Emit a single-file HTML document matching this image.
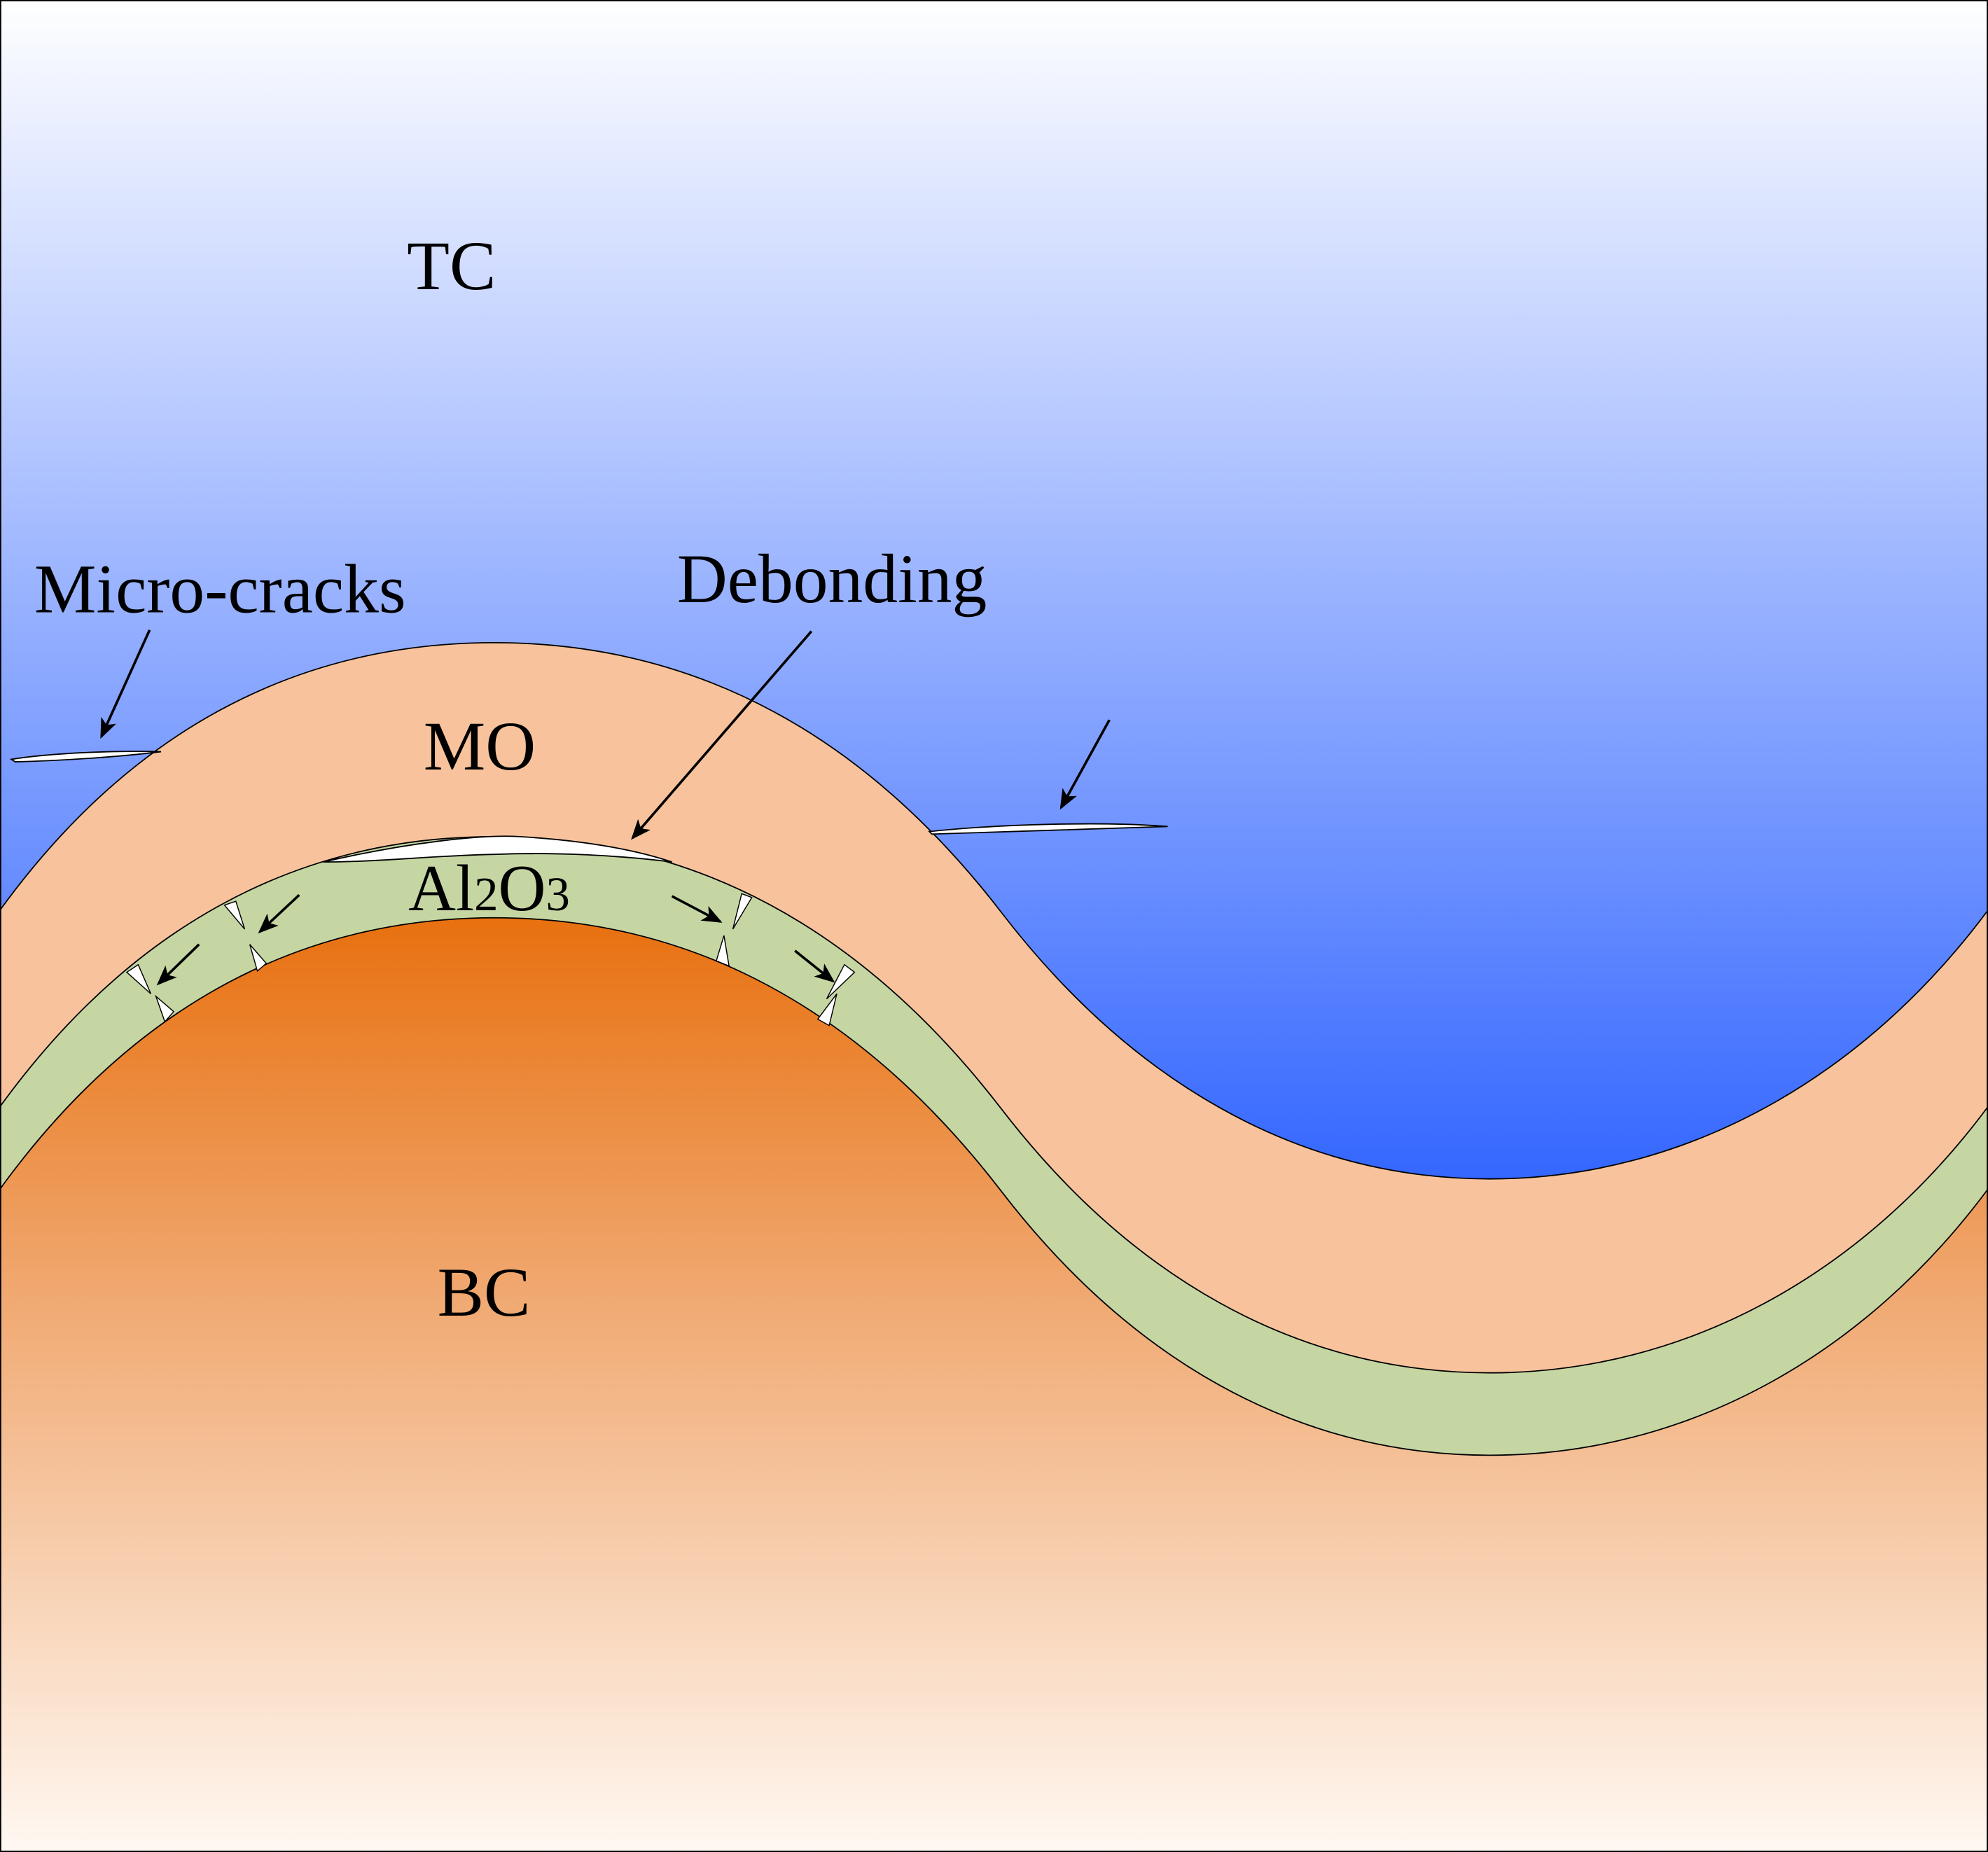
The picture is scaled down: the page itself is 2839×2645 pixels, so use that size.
<!DOCTYPE html>
<html><head><meta charset="utf-8"><style>
html,body{margin:0;padding:0;background:#fff}
svg{display:block}
text{font-family:"Liberation Serif",serif;fill:#000}
</style></head><body>
<svg width="2839" height="2645" viewBox="0 0 1568 1461" preserveAspectRatio="none" xmlns="http://www.w3.org/2000/svg">
<defs>
<linearGradient id="tc" x1="0" y1="0" x2="0" y2="1" gradientUnits="objectBoundingBox">
<stop offset="0" stop-color="#ffffff"/><stop offset="1" stop-color="#3366ff"/></linearGradient>
<linearGradient id="bc" x1="0" y1="724" x2="0" y2="1461" gradientUnits="userSpaceOnUse">
<stop offset="0" stop-color="#e8700f"/><stop offset="0.4" stop-color="#f0a870"/><stop offset="1" stop-color="#fff8f2"/></linearGradient>
<marker id="ah" markerWidth="16" markerHeight="13" refX="14" refY="6.5" orient="auto" markerUnits="userSpaceOnUse">
<path d="M0,0 L16,6.5 L0,13 L4,6.5 Z" fill="#000"/></marker>
</defs>
<rect x="0" y="0" width="1568" height="935" fill="url(#tc)"/>
<path d="M0,718 C100,580 230,507 390,507 C560,507 690,590 790,720 C890,850 1020,930 1175,930 C1330,930 1470,850 1568,718 L1568,1461 L0,1461 Z" fill="#f8c39c" stroke="#000" stroke-width="1"/>
<path d="M0,873 C100,735 230,660 390,660 C560,660 690,745 790,875 C890,1005 1020,1083 1175,1083 C1330,1083 1470,1005 1568,873 L1568,1461 L0,1461 Z" fill="#c5d6a3" stroke="#000" stroke-width="1"/>
<path d="M0,938 C100,800 230,724 390,724 C560,724 690,810 790,940 C890,1070 1020,1148 1175,1148 C1330,1148 1470,1070 1568,938 L1568,1461 L0,1461 Z" fill="url(#bc)" stroke="#000" stroke-width="1"/>
<rect x="0.5" y="0.5" width="1567" height="1460" fill="none" stroke="#000" stroke-width="1"/>
<path d="M9,599 C40,594 90,592 127,593 C95,597 50,600 12,601 Z" fill="#fff" stroke="#000" stroke-width="1"/>
<path d="M733,656 C790,650 870,648 921,652 C870,654 790,656 735,658 Z" fill="#fff" stroke="#000" stroke-width="1"/>
<path d="M255,680 C320,665 380,658 410,660 C460,663 500,670 530,680 C490,675 440,672 390,674 C340,675 300,680 255,680 Z" fill="#fff" stroke="#000" stroke-width="1"/>
<g fill="#fff" stroke="#000" stroke-width="0.8">
<path d="M177,714 L186,711 L193,733 Z"/>
<path d="M197,745 L203,766 L210,760 Z"/>
<path d="M100,767 L109,761 L119,784 Z"/>
<path d="M123,786 L130,806 L137,798 Z"/>
<path d="M585,705 L593,708 L578,733 Z"/>
<path d="M571,738 L565,758 L575,762 Z"/>
<path d="M666,761 L674,767 L652,788 Z"/>
<path d="M660,784 L645,804 L654,809 Z"/>
</g>
<g stroke="#000" stroke-width="2" fill="none" marker-end="url(#ah)">
<line x1="118" y1="497" x2="80" y2="581"/>
<line x1="875" y1="568" x2="837" y2="637"/>
<line x1="640" y1="498" x2="499" y2="661"/>
<line x1="236" y1="706" x2="205" y2="735"/>
<line x1="157" y1="745" x2="125" y2="776"/>
<line x1="530" y1="707" x2="568" y2="727"/>
<line x1="627" y1="750" x2="657" y2="774"/>
</g>
<text x="321" y="228" font-size="55">TC</text>
<text x="27" y="483" font-size="55">Micro-cracks</text>
<text x="534" y="475" font-size="55">Debonding</text>
<text x="334" y="607" font-size="55">MO</text>
<text x="322" y="718" font-size="52">Al<tspan font-size="38">2</tspan>O<tspan font-size="38">3</tspan></text>
<text x="345" y="1038" font-size="55">BC</text>
</svg>
</body></html>
